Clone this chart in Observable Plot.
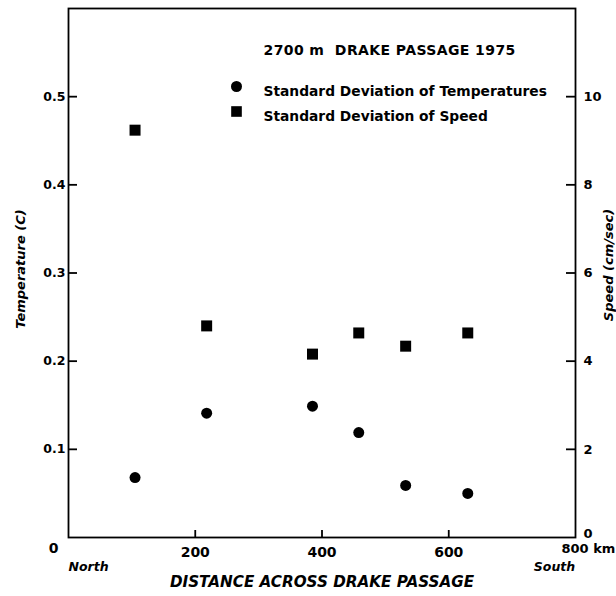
<!DOCTYPE html>
<html>
<head>
<meta charset="utf-8">
<script src="https://cdn.jsdelivr.net/npm/d3@7"></script>
<script src="https://cdn.jsdelivr.net/npm/@observablehq/plot@0.6"></script>
<style>
  html, body { margin: 0; padding: 0; background: #fff; }
  #chart svg { display: block; }
</style>
</head>
<body>
<div id="chart"></div>
<script>
// Data (six current-meter stations across Drake Passage, 2700 m)
const distanceKm = [105, 218, 385, 458, 532, 630];
const tempSD = [0.068, 0.141, 0.149, 0.119, 0.059, 0.050];     // °C
const speedSD = [9.24, 4.80, 4.16, 4.64, 4.34, 4.64];          // cm/sec

const tempTicks = [0.1, 0.2, 0.3, 0.4, 0.5];
const speedTicks = [2, 4, 6, 8, 10];
const speedZero = [0];
const distTicks = [200, 400, 600];
const distEndTicks = [0, 800];
const distEndLabels = ["0", "800 km"];

const titleText = "2700 m  DRAKE PASSAGE 1975";
const legendLabels = ["Standard Deviation of Temperatures", "Standard Deviation of Speed"];
const yLabelLeft = "Temperature (C)";
const yLabelRight = "Speed (cm/sec)";
const xLabel = "DISTANCE ACROSS DRAKE PASSAGE";
const xEnds = ["North", "South"];

const speedPerDegree = 20; // right axis: 10 cm/sec aligned with 0.5 C

const font = "DejaVu Sans";

const chart = Plot.plot({
  width: 616,
  height: 596,
  marginLeft: 68,
  marginRight: 41,
  marginTop: 8,
  marginBottom: 59,
  x: {domain: [0, 800]},
  y: {domain: [0, 0.6]},
  style: {fontFamily: font, fontWeight: "bold", color: "black", background: "white"},
  marks: [
    Plot.frame({stroke: "black", strokeWidth: 1.8}),
    Plot.axisY({anchor: "left", ticks: tempTicks, tickFormat: d3.format(".1f"),
      tickSize: -9, tickPadding: 12, strokeWidth: 1.8, fontSize: 12.5, label: null}),
    Plot.axisY({anchor: "right", ticks: speedTicks.map(s => s / speedPerDegree),
      tickFormat: d => String(Math.round(d * speedPerDegree)),
      tickSize: -10, tickPadding: 18, strokeWidth: 1.8, fontSize: 13, label: null}),
    Plot.text(speedZero.map(String), {y: speedZero.map(s => s / speedPerDegree), frameAnchor: "right",
      dx: 8, dy: -4, textAnchor: "start", fontSize: 13}),
    Plot.axisX({ticks: distTicks, tickFormat: d => String(d), tickSize: -7, tickPadding: 17,
      strokeWidth: 1.8, fontSize: 14, label: null}),
    Plot.text([distEndLabels[0]], {x: [distEndTicks[0]], frameAnchor: "bottom", dy: 15, dx: -15, fontSize: 14}),
    Plot.text([distEndLabels[1]], {x: [distEndTicks[1]], frameAnchor: "bottom", dy: 15, dx: -14,
      textAnchor: "start", fontSize: 13}),
    Plot.dot(distanceKm, {x: distanceKm, y: tempSD, r: 5.5, fill: "black", symbol: "circle"}),
    Plot.dot(distanceKm, {x: distanceKm, y: speedSD.map(s => s / speedPerDegree), r: 6.2, fill: "black", symbol: "square"}),
    // title and legend inside the frame
    Plot.text([titleText], {x: null, y: null, frameAnchor: "top-left", dx: 195, dy: 37, textAnchor: "start", fontSize: 14}),
    Plot.dot([legendLabels[0]], {x: null, y: null, frameAnchor: "top-left", dx: 168, dy: 78, r: 5.5, fill: "black", symbol: "circle"}),
    Plot.dot([legendLabels[1]], {x: null, y: null, frameAnchor: "top-left", dx: 168, dy: 103, r: 6, fill: "black", symbol: "square"}),
    Plot.text([legendLabels[0]], {x: null, y: null, frameAnchor: "top-left", dx: 195, dy: 78, textAnchor: "start", fontSize: 13.8}),
    Plot.text([legendLabels[1]], {x: null, y: null, frameAnchor: "top-left", dx: 195, dy: 103, textAnchor: "start", fontSize: 13.8}),
    // axis titles
    Plot.text([yLabelLeft], {x: null, y: null, frameAnchor: "left", dx: -48, dy: -4, rotate: -90,
      textAnchor: "middle", fontStyle: "italic", fontSize: 13}),
    Plot.text([yLabelRight], {x: null, y: null, frameAnchor: "right", dx: 33, dy: -8, rotate: -90,
      textAnchor: "middle", fontStyle: "italic", fontSize: 13}),
    Plot.text([xEnds[0]], {x: null, y: null, frameAnchor: "bottom-left", dx: 20, dy: 33,
      textAnchor: "middle", fontStyle: "italic", fontSize: 12.5}),
    Plot.text([xEnds[1]], {x: null, y: null, frameAnchor: "bottom-right", dx: -21, dy: 33,
      textAnchor: "middle", fontStyle: "italic", fontSize: 12.5}),
    Plot.text([xLabel], {x: null, y: null, frameAnchor: "bottom", dy: 49, fontStyle: "italic", fontSize: 15.2})
  ]
});

// slightly wider letter spacing for the hand-lettered title
chart.querySelectorAll("text").forEach(t => {
  if (t.textContent === titleText) t.style.letterSpacing = "0.4px";
});

document.getElementById("chart").append(chart);
</script>
</body>
</html>
